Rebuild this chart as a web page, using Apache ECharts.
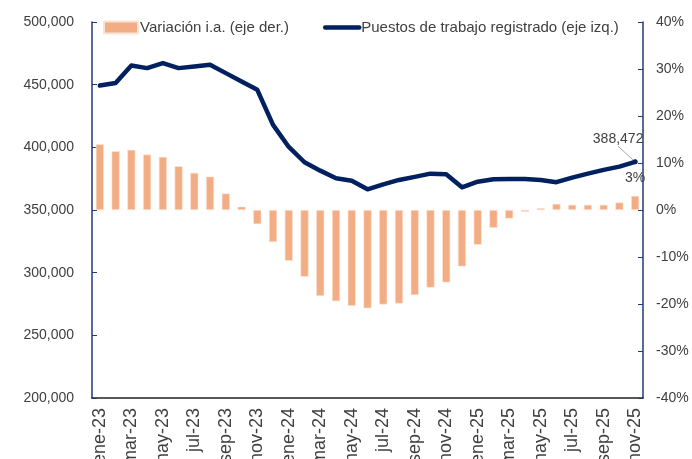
<!DOCTYPE html>
<html>
<head>
<meta charset="utf-8">
<title>Puestos de trabajo registrado</title>
<script src="https://cdn.jsdelivr.net/npm/echarts@6/dist/echarts.min.js"></script>
<style>
    html, body { margin: 0; padding: 0; background: #fff; }
    #chart { width: 692px; height: 459px; }
</style>
</head>
<body>
<div id="chart"></div>
<script>
// Data
const months = [
    'ene-23', 'feb-23', 'mar-23', 'abr-23', 'may-23', 'jun-23', 'jul-23', 'ago-23', 'sep-23', 'oct-23', 'nov-23', 'dic-23',
    'ene-24', 'feb-24', 'mar-24', 'abr-24', 'may-24', 'jun-24', 'jul-24', 'ago-24', 'sep-24', 'oct-24', 'nov-24', 'dic-24',
    'ene-25', 'feb-25', 'mar-25', 'abr-25', 'may-25', 'jun-25', 'jul-25', 'ago-25', 'sep-25', 'oct-25', 'nov-25'
];

// Puestos de trabajo registrado (left axis)
const puestos = [
    449300, 451300, 465300, 463200, 467200, 463200, 464500, 465900, 459200, 452500, 445900, 417900,
    400300, 388100, 381400, 375300, 373400, 366500, 370500, 374000, 376400, 379000, 378500, 368100,
    372600, 374500, 374800, 374800, 374000, 372200, 375800, 379000, 382000, 384600, 388472
];

// Variación i.a. in % (right axis)
const variacion = [
    14.0, 12.5, 12.8, 11.8, 11.3, 9.3, 7.9, 7.1, 3.5, 0.7, -3.0, -6.8,
    -10.8, -14.2, -18.3, -19.4, -20.4, -20.9, -20.1, -19.9, -18.1, -16.5, -15.4, -12.0,
    -7.4, -3.8, -1.8, -0.4, 0.4, 1.3, 1.1, 1.1, 1.1, 1.6, 3.0
];

const leftTicks = { min: 200000, max: 500000, step: 50000 };
const rightTicks = { min: -40, max: 40, step: 10 };

const NAVY = '#002060';
const ORANGE = '#F2AD84';
const TEXT = '#404040';
const FONT = 'Liberation Sans';

function formatThousands(v) {
    return String(Math.round(v)).replace(/\B(?=(\d{3})+(?!\d))/g, ',');
}

document.addEventListener('DOMContentLoaded', function() {
    const chart = echarts.init(document.getElementById('chart'), null, { renderer: 'canvas' });
    const last = months.length - 1;

    // only the last point carries a marker and a label
    const lineData = puestos.map((v, i) => {
        if (i !== last) return v;
        return {
            value: v,
            symbol: 'circle',
            symbolSize: 5,
            label: {
                show: true,
                position: 'top',
                formatter: p => formatThousands(p.value),
                color: TEXT,
                fontSize: 14,
                fontFamily: FONT
            }
        };
    });

    const barData = variacion.map((v, i) => {
        if (i !== last) return v;
        return {
            value: v,
            label: {
                show: true,
                position: 'top',
                distance: 11,
                formatter: p => Math.round(p.value) + '%',
                color: TEXT,
                fontSize: 14,
                fontFamily: FONT
            }
        };
    });

    chart.setOption({
        animation: false,
        textStyle: { fontFamily: FONT },
        // fixed plot box, let the month labels run off the bottom like the original
        grid: { left: 92, right: 49, top: 22, bottom: 61, containLabel: false, outerBoundsMode: 'none' },
        legend: {
            left: 98,
            top: 15,
            itemWidth: 34,
            itemHeight: 12,
            itemGap: 34,
            textStyle: { color: TEXT, fontSize: 15, fontFamily: FONT, padding: [0, 0, 0, -3] },
            data: [
                { name: 'Variación i.a. (eje der.)', icon: 'rect' },
                {
                    name: 'Puestos de trabajo registrado (eje izq.)',
                    itemStyle: { opacity: 0 },
                    lineStyle: { width: 4.5, color: NAVY, cap: 'round' }
                }
            ]
        },
        xAxis: {
            type: 'category',
            data: months,
            boundaryGap: true,
            axisLine: { onZero: false, lineStyle: { color: '#222', width: 1.5 } },
            axisTick: { inside: true, length: 5, interval: 1, lineStyle: { color: '#222' } },
            axisLabel: { interval: 1, rotate: 90, margin: 10, color: TEXT, fontSize: 18, fontFamily: FONT }
        },
        yAxis: [
            {
                type: 'value',
                min: leftTicks.min,
                max: leftTicks.max,
                interval: leftTicks.step,
                axisLine: { show: true, lineStyle: { color: '#1F3A7A', width: 1.5 } },
                axisTick: { show: true, inside: true, length: 5, lineStyle: { color: '#1F3A7A' } },
                splitLine: { show: false },
                axisLabel: { formatter: formatThousands, margin: 18, color: TEXT, fontSize: 14, fontFamily: FONT }
            },
            {
                type: 'value',
                min: rightTicks.min,
                max: rightTicks.max,
                interval: rightTicks.step,
                axisLine: { show: true, lineStyle: { color: '#1F3A7A', width: 1.5 } },
                axisTick: { show: true, inside: true, length: 5, lineStyle: { color: '#1F3A7A' } },
                splitLine: { show: false },
                axisLabel: { formatter: '{value}%', margin: 13, color: TEXT, fontSize: 14, fontFamily: FONT }
            }
        ],
        series: [
            {
                name: 'Variación i.a. (eje der.)',
                type: 'bar',
                yAxisIndex: 1,
                barWidth: 8,
                data: barData,
                itemStyle: { color: ORANGE, borderColor: '#FBE3D5', borderWidth: 0.6 },
                z: 1
            },
            {
                name: 'Puestos de trabajo registrado (eje izq.)',
                type: 'line',
                yAxisIndex: 0,
                data: lineData,
                symbol: 'none',
                showSymbol: true,
                lineStyle: { color: NAVY, width: 4.5, join: 'round', cap: 'round' },
                itemStyle: { color: NAVY },
                labelLayout: { dx: -17, dy: -8 },
                labelLine: { show: true, lineStyle: { color: '#A6A6A6', width: 1 } },
                z: 3
            }
        ]
    });
});
</script>
</body>
</html>
